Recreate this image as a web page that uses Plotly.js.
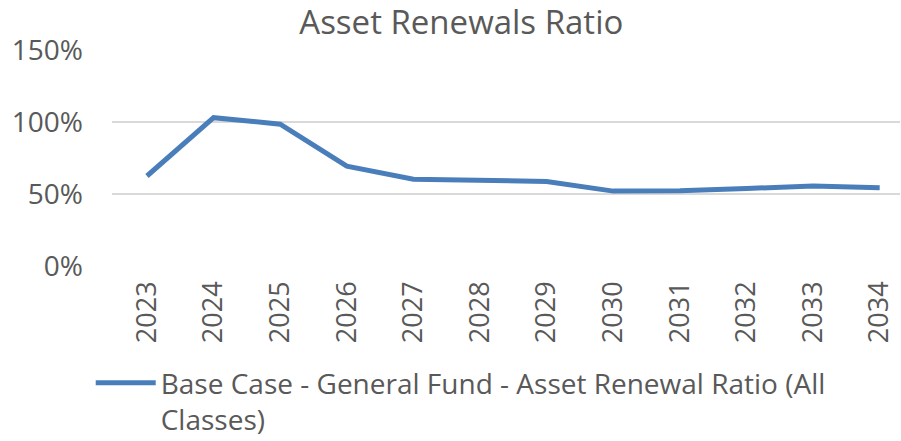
<!DOCTYPE html>
<html>
<head>
<meta charset="utf-8">
<script src="https://cdn.plot.ly/plotly-3.0.1.min.js"></script>
<style>html,body{margin:0;padding:0;background:#fff;}#chart{width:901px;height:441px;}</style>
</head>
<body>
<div id="chart"></div>
<script>
const years = ["2023","2024","2025","2026","2027","2028","2029","2030","2031","2032","2033","2034"];
const ratio = [0.625, 1.03, 0.985, 0.693, 0.603, 0.592, 0.587, 0.52, 0.523, 0.538, 0.556, 0.543];
const seriesName = "Base Case - General Fund - Asset Renewal Ratio (All<br>Classes)";
const yTicks = [0, 0.5, 1, 1.5];
const yTickText = ["0%", "50%", "100%", "150%"];

const font = "'Open Sans', sans-serif";
const trace = {
  x: years, y: ratio, type: "scatter", mode: "lines", name: seriesName,
  line: {color: "#4a7ebb", width: 5}
};
const layout = {
  width: 901, height: 441,
  margin: {l: 112, r: 1, t: 50, b: 175, autoexpand: false},
  paper_bgcolor: "#fff", plot_bgcolor: "#fff",
  font: {family: font, color: "#595959"},
  title: {text: "Asset Renewals Ratio", x: 0.512, xanchor: "center", y: 0.95, yanchor: "middle",
          font: {family: font, size: 33, color: "#595959"}},
  xaxis: {type: "category", range: [-0.525, 11.305], tickangle: -90, tickfont: {size: 27, color: "#595959"},
          showgrid: false, showline: false, zeroline: false, ticks: "", ticklabelstandoff: 9, automargin: false},
  yaxis: {range: [0, 1.5], tickvals: yTicks, ticktext: yTickText, tickfont: {size: 28, color: "#595959"},
          showgrid: true, gridcolor: "#d9d9d9", gridwidth: 1.5, zeroline: false, showline: false,
          ticks: "", ticklabelstandoff: 28, automargin: false},
  showlegend: true,
  legend: {orientation: "h", x: -0.027, xanchor: "left", y: -0.625, yanchor: "middle", valign: "top",
           font: {size: 28, color: "#595959"}, itemwidth: 60, tracegroupgap: 0}
};
Plotly.newPlot("chart", [trace], layout, {displayModeBar: false, staticPlot: true});
</script>
</body>
</html>
